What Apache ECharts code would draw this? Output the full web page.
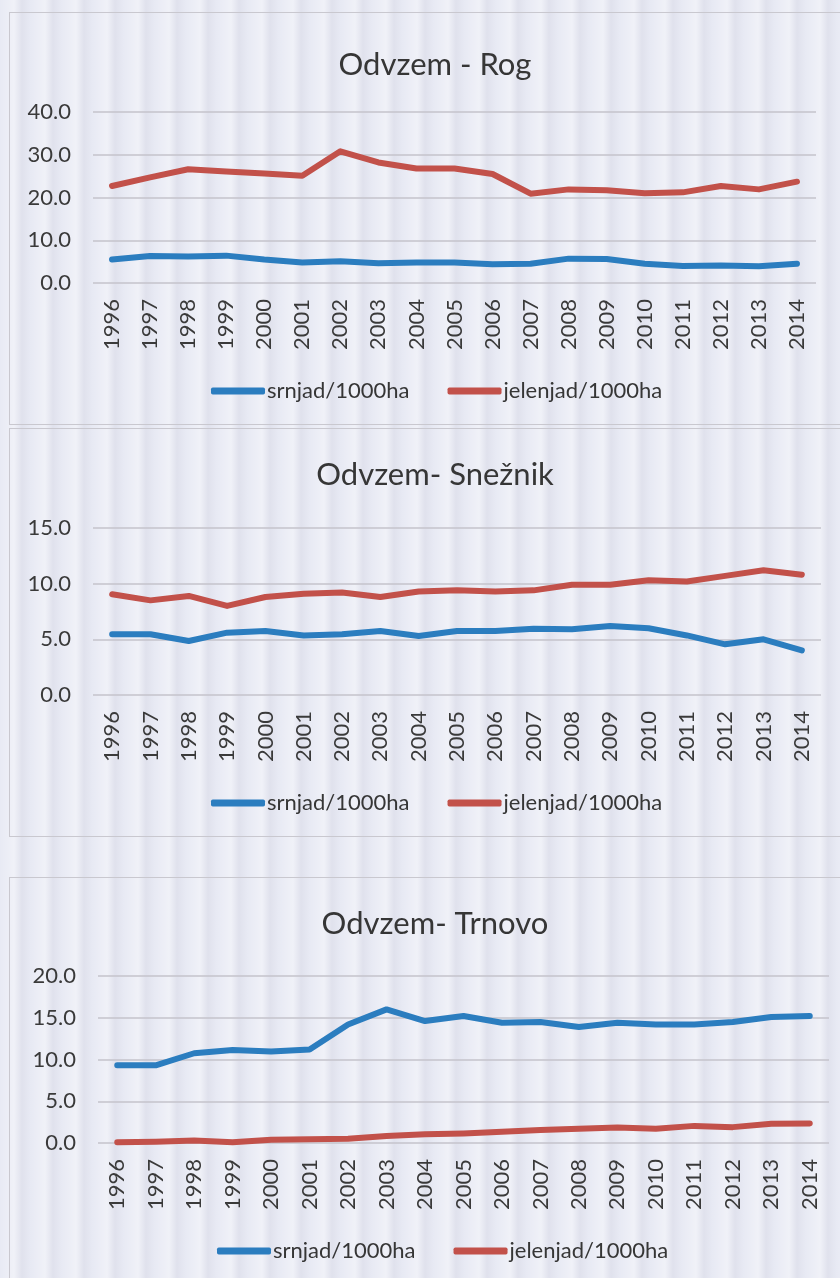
<!DOCTYPE html>
<html>
<head>
<meta charset="utf-8">
<script src="https://cdn.jsdelivr.net/npm/echarts@6/dist/echarts.min.js"></script>
<style>
  html, body { margin: 0; padding: 0; }
  body {
    width: 840px; height: 1278px; overflow: hidden; position: relative;
    background-color: #e8eaf4;
    background-image: repeating-linear-gradient(90deg,
      rgba(255,255,255,0.0) 0px, rgba(255,255,255,0.35) 14px,
      rgba(200,200,215,0.25) 22px, rgba(255,255,255,0.0) 31px);
  }
  .panel {
    position: absolute; left: 9px; width: 850px;
    border: 1.5px solid #c9c8cf;
  }
</style>
</head>
<body>
<div class="panel" id="rog" style="top:12px;height:411px"></div>
<div class="panel" id="sneznik" style="top:428px;height:407px"></div>
<div class="panel" id="trnovo" style="top:877px;height:420px"></div>
<script>
// leta (kategorije)
const years = ['1996','1997','1998','1999','2000','2001','2002','2003','2004','2005',
  '2006','2007','2008','2009','2010','2011','2012','2013','2014']

// Odvzem - Rog
const rogSrnjad = [5.5, 6.3, 6.2, 6.4, 5.5, 4.8, 5.1, 4.6, 4.8, 4.8, 4.4, 4.5, 5.7, 5.6, 4.5, 4.0, 4.1, 3.9, 4.5]
const rogJelenjad = [22.7, 24.7, 26.6, 26.1, 25.6, 25.1, 30.8, 28.2, 26.8, 26.8, 25.5, 20.9, 21.9, 21.7, 21.0, 21.2, 22.7, 21.9, 23.7]

// Odvzem - Snežnik
const snSrnjad = [5.45, 5.45, 4.85, 5.6, 5.75, 5.35, 5.45, 5.75, 5.3, 5.75, 5.75, 5.95, 5.9, 6.2, 6.0, 5.35, 4.55, 5.0, 4.0]
const snJelenjad = [9.05, 8.5, 8.9, 8.0, 8.8, 9.1, 9.2, 8.8, 9.3, 9.4, 9.3, 9.4, 9.9, 9.9, 10.3, 10.2, 10.7, 11.2, 10.8]

// Odvzem - Trnovo
const trSrnjad = [9.3, 9.3, 10.75, 11.15, 10.95, 11.2, 14.2, 16.0, 14.6, 15.2, 14.4, 14.5, 13.9, 14.4, 14.2, 14.2, 14.5, 15.1, 15.2]
const trJelenjad = [0.1, 0.15, 0.3, 0.1, 0.4, 0.45, 0.5, 0.85, 1.05, 1.15, 1.35, 1.55, 1.7, 1.85, 1.7, 2.05, 1.9, 2.3, 2.35]

const BLUE = '#2b7dbf'
const RED = '#c2514a'
const FONT = 'Lato'
const NAMES = ['srnjad/1000ha', 'jelenjad/1000ha']

function makeOption(cfg) {
  const line = (name, data, color) => ({
    name, type: 'line', data, showSymbol: false, symbol: 'none',
    lineStyle: { width: 6, color, cap: 'round', join: 'round' },
    itemStyle: { color }
  })
  return {
    animation: false,
    textStyle: { fontFamily: FONT },
    title: {
      text: cfg.title, left: 'center', top: cfg.titleTop,
      textStyle: { fontFamily: FONT, fontSize: 31, fontWeight: 'normal', color: '#363636' }
    },
    legend: {
      data: NAMES, left: cfg.legendLeft, top: cfg.legendTop,
      icon: 'roundRect', itemWidth: 54, itemHeight: 7, itemGap: 38,
      textStyle: { fontFamily: FONT, fontSize: 22, color: '#363636', padding: [0, 0, 0, -3] }
    },
    grid: { left: cfg.gridLeft, width: cfg.gridWidth, top: cfg.gridTop, height: cfg.gridHeight },
    xAxis: {
      type: 'category', data: years, boundaryGap: true,
      axisLine: { show: false }, axisTick: { show: false },
      axisLabel: { rotate: 90, fontSize: 22, color: '#3a3a3a', margin: 16, fontFamily: FONT }
    },
    yAxis: {
      type: 'value', min: 0, max: cfg.max, interval: cfg.interval,
      axisLine: { show: false }, axisTick: { show: false },
      axisLabel: { fontSize: 22, color: '#3a3a3a', margin: 22, fontFamily: FONT,
        formatter: v => v.toFixed(1) },
      splitLine: { lineStyle: { color: '#c4c3cb', width: 1.5 } }
    },
    series: [line(NAMES[0], cfg.srnjad, BLUE), line(NAMES[1], cfg.jelenjad, RED)]
  }
}

const charts = [
  { id: 'rog', title: 'Odvzem - Rog', titleTop: 31, max: 40, interval: 10,
    gridLeft: 83, gridWidth: 723, gridTop: 99, gridHeight: 171,
    legendLeft: 196, legendTop: 362, srnjad: rogSrnjad, jelenjad: rogJelenjad },
  { id: 'sneznik', title: 'Odvzem- Snežnik', titleTop: 25, max: 15, interval: 5,
    gridLeft: 83, gridWidth: 728, gridTop: 99, gridHeight: 167,
    legendLeft: 196, legendTop: 358, srnjad: snSrnjad, jelenjad: snJelenjad },
  { id: 'trnovo', title: 'Odvzem- Trnovo', titleTop: 25, max: 20, interval: 5,
    gridLeft: 88, gridWidth: 731, gridTop: 98, gridHeight: 167,
    legendLeft: 202, legendTop: 357, srnjad: trSrnjad, jelenjad: trJelenjad }
]

charts.forEach(cfg => {
  const chart = echarts.init(document.getElementById(cfg.id), null, { renderer: 'canvas' })
  chart.setOption(makeOption(cfg))
})
</script>
</body>
</html>
